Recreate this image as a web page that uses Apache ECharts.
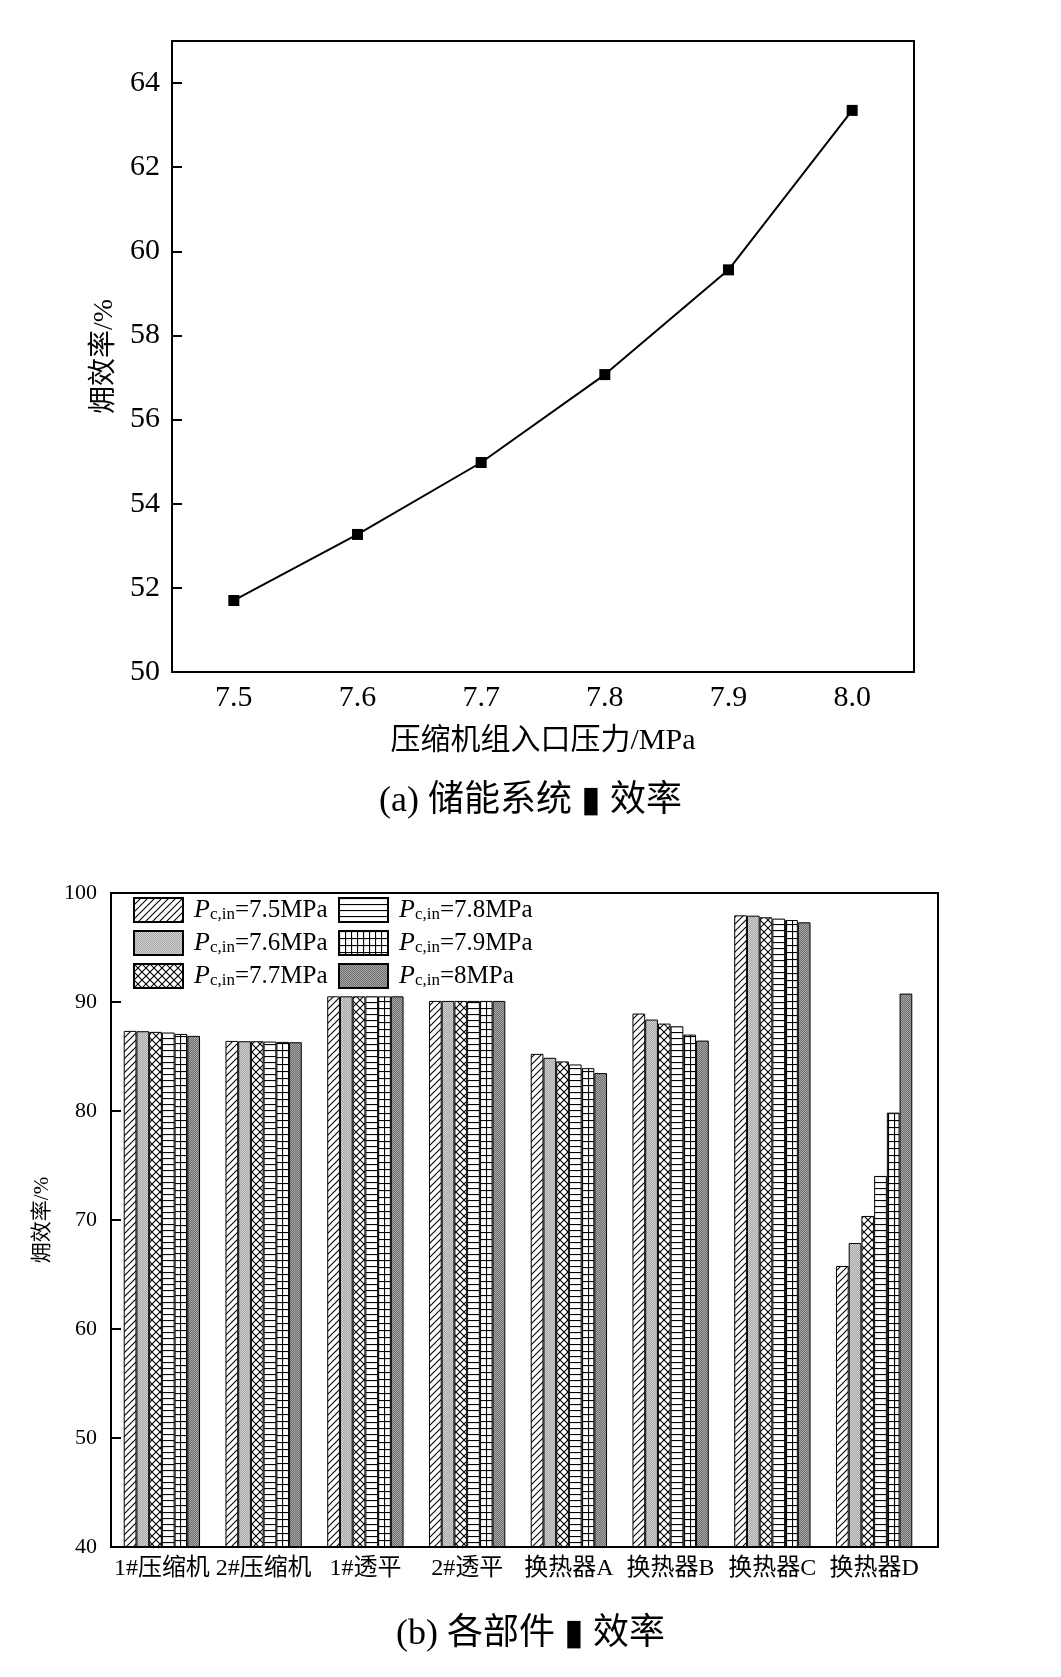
<!DOCTYPE html>
<html>
<head>
<meta charset="utf-8">
<script src="https://cdn.jsdelivr.net/npm/echarts@6/dist/echarts.min.js"></script>
<style>
html,body{margin:0;padding:0;background:#fff;}
#chart{width:1061px;height:1677px;}
</style>
</head>
<body>
<div id="chart"></div>
<script>
// ---- data ----
const pressures = ['7.5', '7.6', '7.7', '7.8', '7.9', '8.0'];
const systemEff = [51.70, 53.27, 54.98, 57.07, 59.56, 63.35];

const components = ['1#压缩机', '2#压缩机', '1#透平', '2#透平', '换热器A', '换热器B', '换热器C', '换热器D'];
const seriesLabels = ['7.5MPa', '7.6MPa', '7.7MPa', '7.8MPa', '7.9MPa', '8MPa'];
const eff75 = [87.35, 86.43, 90.52, 90.10, 85.24, 88.94, 97.95, 65.78];
const eff76 = [87.32, 86.40, 90.52, 90.10, 84.88, 88.39, 97.92, 67.89];
const eff77 = [87.26, 86.40, 90.52, 90.10, 84.55, 88.02, 97.77, 70.37];
const eff78 = [87.20, 86.37, 90.52, 90.10, 84.27, 87.77, 97.65, 74.04];
const eff79 = [87.07, 86.34, 90.52, 90.10, 83.93, 87.01, 97.52, 79.85];
const eff80 = [86.89, 86.31, 90.52, 90.10, 83.48, 86.46, 97.31, 90.77];
const compSeries = [eff75, eff76, eff77, eff78, eff79, eff80];

// ---- hatch patterns ----
function tile(w, h, draw) {
  const c = document.createElement('canvas');
  c.width = w; c.height = h;
  const g = c.getContext('2d');
  g.fillStyle = '#fff'; g.fillRect(0, 0, w, h);
  draw(g, w, h);
  return { image: c, repeat: 'repeat' };
}
function line(g, x1, y1, x2, y2, lw) {
  g.strokeStyle = '#000'; g.lineWidth = lw || 1.1;
  g.beginPath(); g.moveTo(x1, y1); g.lineTo(x2, y2); g.stroke();
}
const patDiag = tile(7, 7, (g, w, h) => {
  line(g, -1, h + 1, w + 1, -1); line(g, -1, 1, 1, -1); line(g, w - 1, h + 1, w + 1, h - 1);
});
const patGrayLight = tile(2, 2, (g) => {
  g.fillStyle = '#a6a6a6'; g.fillRect(0, 0, 2, 2);
  g.fillStyle = '#d2d2d2'; g.fillRect(0, 0, 1, 1); g.fillRect(1, 1, 1, 1);
});
const patCross = tile(8, 8, (g, w, h) => {
  line(g, -1, h + 1, w + 1, -1); line(g, -1, -1, w + 1, h + 1);
});
const patHoriz = tile(4, 6, (g, w, h) => { line(g, 0, 0.5, w, 0.5, 1.2); });
const patGrid = tile(6, 7, (g, w, h) => { line(g, 0, 0.5, w, 0.5, 1.2); line(g, 0.5, 0, 0.5, h, 1.2); });
const patGrayDark = tile(2, 2, (g) => {
  g.fillStyle = '#707070'; g.fillRect(0, 0, 2, 2);
  g.fillStyle = '#a4a4a4'; g.fillRect(0, 0, 1, 1); g.fillRect(1, 1, 1, 1);
});
const patterns = [patDiag, patGrayLight, patCross, patHoriz, patGrid, patGrayDark];

const serif = "'Liberation Serif','Noto Sans CJK SC',serif";

const chart = echarts.init(document.getElementById('chart'), null, { renderer: 'canvas' });

const legendRich = {
  p: { fontFamily: 'Liberation Serif', fontStyle: 'italic', fontSize: 26, lineHeight: 26, color: '#000', padding: [0, 0, 0, 6] },
  s: { fontFamily: 'Liberation Serif', fontSize: 17, lineHeight: 10, verticalAlign: 'bottom', color: '#000' },
  t: { fontFamily: 'Liberation Serif', fontSize: 25, lineHeight: 26, color: '#000' }
};
function legendCfg(names, left) {
  return {
    data: names, left: left, top: 897, orient: 'vertical', padding: 0,
    itemWidth: 49, itemHeight: 24, itemGap: 7, icon: 'rect', selectedMode: false,
    formatter: (n) => '{p|P}{s|c,in}{t|=' + n + '}',
    textStyle: { rich: legendRich }
  };
}

const option = {
  animation: false,
  backgroundColor: '#fff',
  grid: [
    { left: 172, top: 41, width: 742, height: 631, show: true, borderColor: '#000', borderWidth: 2, backgroundColor: 'transparent' },
    { left: 111, top: 893, width: 814, height: 654 }
  ],
  legend: [legendCfg(seriesLabels.slice(0, 3), 133), legendCfg(seriesLabels.slice(3), 338)],
  xAxis: [
    {
      gridIndex: 0, type: 'category', data: pressures, boundaryGap: true,
      axisLine: { lineStyle: { color: '#000', width: 2 } },
      axisTick: { inside: true, length: 10, alignWithLabel: true, lineStyle: { color: '#000', width: 2 } },
      axisLabel: { color: '#000', fontFamily: serif, fontSize: 30, margin: 11 },
      name: '压缩机组入口压力/MPa', nameLocation: 'middle', nameGap: 54,
      nameTextStyle: { color: '#000', fontFamily: serif, fontSize: 30 }
    },
    {
      gridIndex: 1, type: 'category', data: components, boundaryGap: true,
      axisLine: { lineStyle: { color: '#000', width: 2 } },
      axisTick: { show: false },
      axisLabel: { color: '#000', fontFamily: serif, fontSize: 24, margin: 10, interval: 0 }
    }
  ],
  yAxis: [
    {
      gridIndex: 0, type: 'value', min: 50, max: 65, interval: 2,
      axisLine: { show: true, lineStyle: { color: '#000', width: 2 } },
      axisTick: { show: true, inside: true, length: 10, lineStyle: { color: '#000', width: 2 } },
      axisLabel: { color: '#000', fontFamily: serif, fontSize: 30, margin: 12, showMaxLabel: false },
      splitLine: { show: false },
      name: '㶲效率/%', nameLocation: 'middle', nameRotate: 90, nameGap: 52,
      nameTextStyle: { color: '#000', fontFamily: serif, fontSize: 28 }
    },
    {
      gridIndex: 1, type: 'value', min: 40, max: 100, interval: 10,
      axisLine: { show: true, lineStyle: { color: '#000', width: 2 } },
      axisTick: { show: true, inside: true, length: 10, lineStyle: { color: '#000', width: 2 } },
      axisLabel: { color: '#000', fontFamily: serif, fontSize: 22, margin: 14 },
      splitLine: { show: false },
      name: '㶲效率/%', nameLocation: 'middle', nameRotate: 90, nameGap: 58,
      nameTextStyle: { color: '#000', fontFamily: serif, fontSize: 21 }
    }
  ],
  series: [
    {
      type: 'line', xAxisIndex: 0, yAxisIndex: 0, data: systemEff,
      symbol: 'rect', symbolSize: 11, showSymbol: true,
      lineStyle: { color: '#000', width: 2 }, itemStyle: { color: '#000' }
    }
  ].concat(compSeries.map((d, i) => ({
    type: 'bar', name: seriesLabels[i], xAxisIndex: 1, yAxisIndex: 1, data: d,
    barGap: '0%', barCategoryGap: '25%',
    itemStyle: { color: patterns[i], borderColor: '#000', borderWidth: 1 }
  }))),
  graphic: [
    { type: 'rect', z: 100, silent: true, shape: { x: 111, y: 893, width: 827, height: 654 },
      style: { fill: 'none', stroke: '#000', lineWidth: 2 } },
    { type: 'text', z: 100, left: 'center', top: 784,
      style: { text: '(a) 储能系统 ▮ 效率', fontFamily: serif, fontSize: 36, fill: '#000' } },
    { type: 'text', z: 100, left: 'center', top: 1617,
      style: { text: '(b) 各部件 ▮ 效率', fontFamily: serif, fontSize: 36, fill: '#000' } }
  ]
};
chart.setOption(option);
</script>
</body>
</html>
